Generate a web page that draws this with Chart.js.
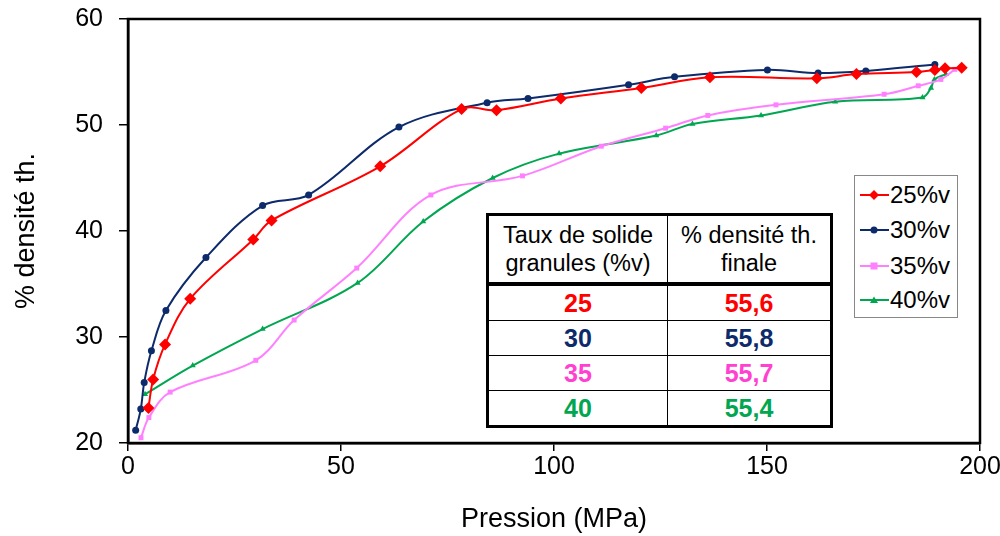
<!DOCTYPE html>
<html>
<head>
<meta charset="utf-8">
<script src="https://cdn.jsdelivr.net/npm/chart.js@4/dist/chart.umd.min.js"></script>
<style>
  html, body { margin: 0; padding: 0; background: #fff; }
  #wrap { position: relative; width: 1000px; height: 536px; font-family: "Liberation Sans", Arial, sans-serif; }
  #chart { position: absolute; left: 0; top: 0; }
  #tbl {
    position: absolute; left: 486px; top: 213px; width: 347px;
    border-collapse: collapse; border: 3px solid #000; background: #fff;
  }
  #tbl td { border: 1px solid #000; text-align: center; padding: 0; }
  #tbl td:first-child { width: 178px; }
  #tbl tr.head td { height: 66px; font-size: 23.5px; line-height: 28px; color: #000; border-bottom: 4px solid #000; }
  #tbl tr.val td { height: 34px; font-size: 25px; font-weight: bold; line-height: 30px; }
  #legend {
    position: absolute; left: 854px; top: 175px; width: 104px; height: 143px;
    border: 1px solid #888; background: #fff; box-sizing: border-box;
  }
  #legend .item { position: absolute; left: 5px; height: 30px; display: flex; align-items: center; font-size: 24px; color: #000; }
  #legend svg { margin-right: 1px; }
</style>
</head>
<body>
<div id="wrap">
  <canvas id="chart" width="1000" height="536"></canvas>
  <table id="tbl"></table>
  <div id="legend"></div>
</div>
<script>
// Compaction curves: relative density vs. pressure, one series per solid loading
const seriesLabels = ['25%v', '30%v', '35%v', '40%v'];

const pressure25 = [4.8, 5.9, 8.7, 14.6, 29.4, 33.7, 59.2, 78.3, 86.5, 101.6, 120.5, 136.6, 161.7, 171.0, 185.1, 189.4, 191.8, 195.7];
const density25  = [23.3, 26.0, 29.3, 33.6, 39.2, 41.0, 46.1, 51.5, 51.4, 52.5, 53.5, 54.5, 54.4, 54.8, 55.0, 55.2, 55.35, 55.4];

const pressure30 = [1.8, 3.0, 3.8, 5.5, 8.9, 18.3, 31.6, 42.4, 63.6, 84.3, 93.9, 117.5, 128.3, 150.1, 162.0, 173.2, 189.4];
const density30  = [21.2, 23.2, 25.7, 28.7, 32.5, 37.5, 42.4, 43.4, 49.8, 52.1, 52.5, 53.8, 54.55, 55.2, 54.9, 55.1, 55.7];

const pressure35 = [3.05, 4.9, 9.9, 30.0, 39.0, 53.7, 71.1, 92.6, 111.1, 126.2, 136.1, 152.1, 177.5, 185.5, 190.8, 194.1];
const density35  = [20.5, 22.4, 24.8, 27.8, 31.6, 36.5, 43.4, 45.2, 48.0, 49.7, 50.9, 51.9, 52.9, 53.7, 54.3, 55.25];

const pressure40 = [4.0, 15.2, 31.6, 53.9, 69.3, 85.6, 101.2, 124.0, 132.5, 148.6, 166.0, 186.5, 188.5, 189.3, 192.0];
const density40  = [24.6, 27.3, 30.75, 35.1, 40.9, 45.0, 47.3, 49.0, 50.1, 50.9, 52.2, 52.6, 53.5, 54.3, 54.8];

// Summary table
const tableHeader = ['Taux de solide<br>granules (%v)', '% densité th.<br>finale'];
const tableRate = ['25', '30', '35', '40'];
const tableFinal = ['55,6', '55,8', '55,7', '55,4'];

const lineColors = ['#ff0000', '#0d2a6b', '#ff80ff', '#00a650'];
const textColors = ['#ff0000', '#0d2a6b', '#ff40d0', '#00a650'];
const pointStyles = ['rectRot', 'circle', 'rect', 'triangle'];
const pointRadii = [6, 3.5, 3.5, 3.5];

function toPoints(xs, ys) {
  return xs.map((x, i) => ({ x: x, y: ys[i] }));
}

const allSeries = [
  toPoints(pressure25, density25),
  toPoints(pressure30, density30),
  toPoints(pressure35, density35),
  toPoints(pressure40, density40)
];

// border around the plot area (top and right sides are not drawn by the axes)
const frame = {
  id: 'frame',
  afterDraw(chart) {
    const a = chart.chartArea, c = chart.ctx;
    c.save();
    c.strokeStyle = '#000';
    c.lineWidth = 2.5;
    c.strokeRect(a.left, a.top, a.right - a.left, a.bottom - a.top);
    c.restore();
  }
};

const tickFont = { family: 'Liberation Sans', size: 25 };
const titleFont = { family: 'Liberation Sans', size: 27 };

new Chart(document.getElementById('chart'), {
  type: 'line',
  data: {
    datasets: allSeries.map((pts, i) => ({
      label: seriesLabels[i],
      data: pts,
      borderColor: lineColors[i],
      backgroundColor: lineColors[i],
      borderWidth: 2,
      pointStyle: pointStyles[i],
      pointRadius: pointRadii[i],
      pointBorderWidth: 0,
      tension: 0.35,
      fill: false
    }))
  },
  options: {
    responsive: false,
    animation: false,
    layout: { padding: { left: 10, right: 20, top: 19, bottom: 0 } },
    plugins: { legend: { display: false }, tooltip: { enabled: false } },
    scales: {
      x: {
        type: 'linear', min: 0, max: 200,
        afterFit: s => { s.height = 93; s.paddingLeft = 0; s.paddingRight = 0; },
        grid: { drawOnChartArea: false, drawTicks: true, tickLength: 8, color: '#000', lineWidth: 1.5 },
        border: { color: '#000', width: 2.5 },
        ticks: { stepSize: 50, color: '#000', font: tickFont, padding: 1 },
        title: { display: true, text: 'Pression (MPa)', color: '#000', font: titleFont, padding: { top: 0, bottom: 0 } }
      },
      y: {
        min: 20, max: 60,
        afterFit: s => { s.width = 118; s.paddingTop = 0; s.paddingBottom = 0; },
        grid: { drawOnChartArea: false, drawTicks: true, tickLength: 9, color: '#000', lineWidth: 1.5 },
        border: { color: '#000', width: 2.5 },
        ticks: { stepSize: 10, color: '#000', font: tickFont, padding: 16 },
        title: { display: true, text: '% densité th.', color: '#000', font: titleFont, padding: { top: 0, bottom: 0 } }
      }
    }
  },
  plugins: [frame]
});

// table
const tbl = document.getElementById('tbl');
let html = '<tr class="head"><td>' + tableHeader[0] + '</td><td>' + tableHeader[1] + '</td></tr>';
tableRate.forEach((r, i) => {
  html += '<tr class="val" style="color:' + textColors[i] + '"><td>' + r + '</td><td>' + tableFinal[i] + '</td></tr>';
});
tbl.innerHTML = html;

// legend
function markerSvg(i) {
  const c = lineColors[i];
  let m;
  if (pointStyles[i] === 'rectRot') m = '<polygon points="14,3 19,8 14,13 9,8" fill="' + c + '"/>';
  else if (pointStyles[i] === 'circle') m = '<circle cx="14" cy="8" r="3.5" fill="' + c + '"/>';
  else if (pointStyles[i] === 'rect') m = '<rect x="10.5" y="4.5" width="7" height="7" fill="' + c + '"/>';
  else m = '<polygon points="14,4.5 18,11 10,11" fill="' + c + '"/>';
  return '<svg width="29" height="16"><line x1="0" y1="8" x2="29" y2="8" stroke="' + c + '" stroke-width="2"/>' + m + '</svg>';
}
const legend = document.getElementById('legend');
const legendTops = [4, 39, 75, 109];
seriesLabels.forEach((lab, i) => {
  const d = document.createElement('div');
  d.className = 'item';
  d.style.top = legendTops[i] + 'px';
  d.innerHTML = markerSvg(i) + '<span>' + lab + '</span>';
  legend.appendChild(d);
});
</script>
</body>
</html>
